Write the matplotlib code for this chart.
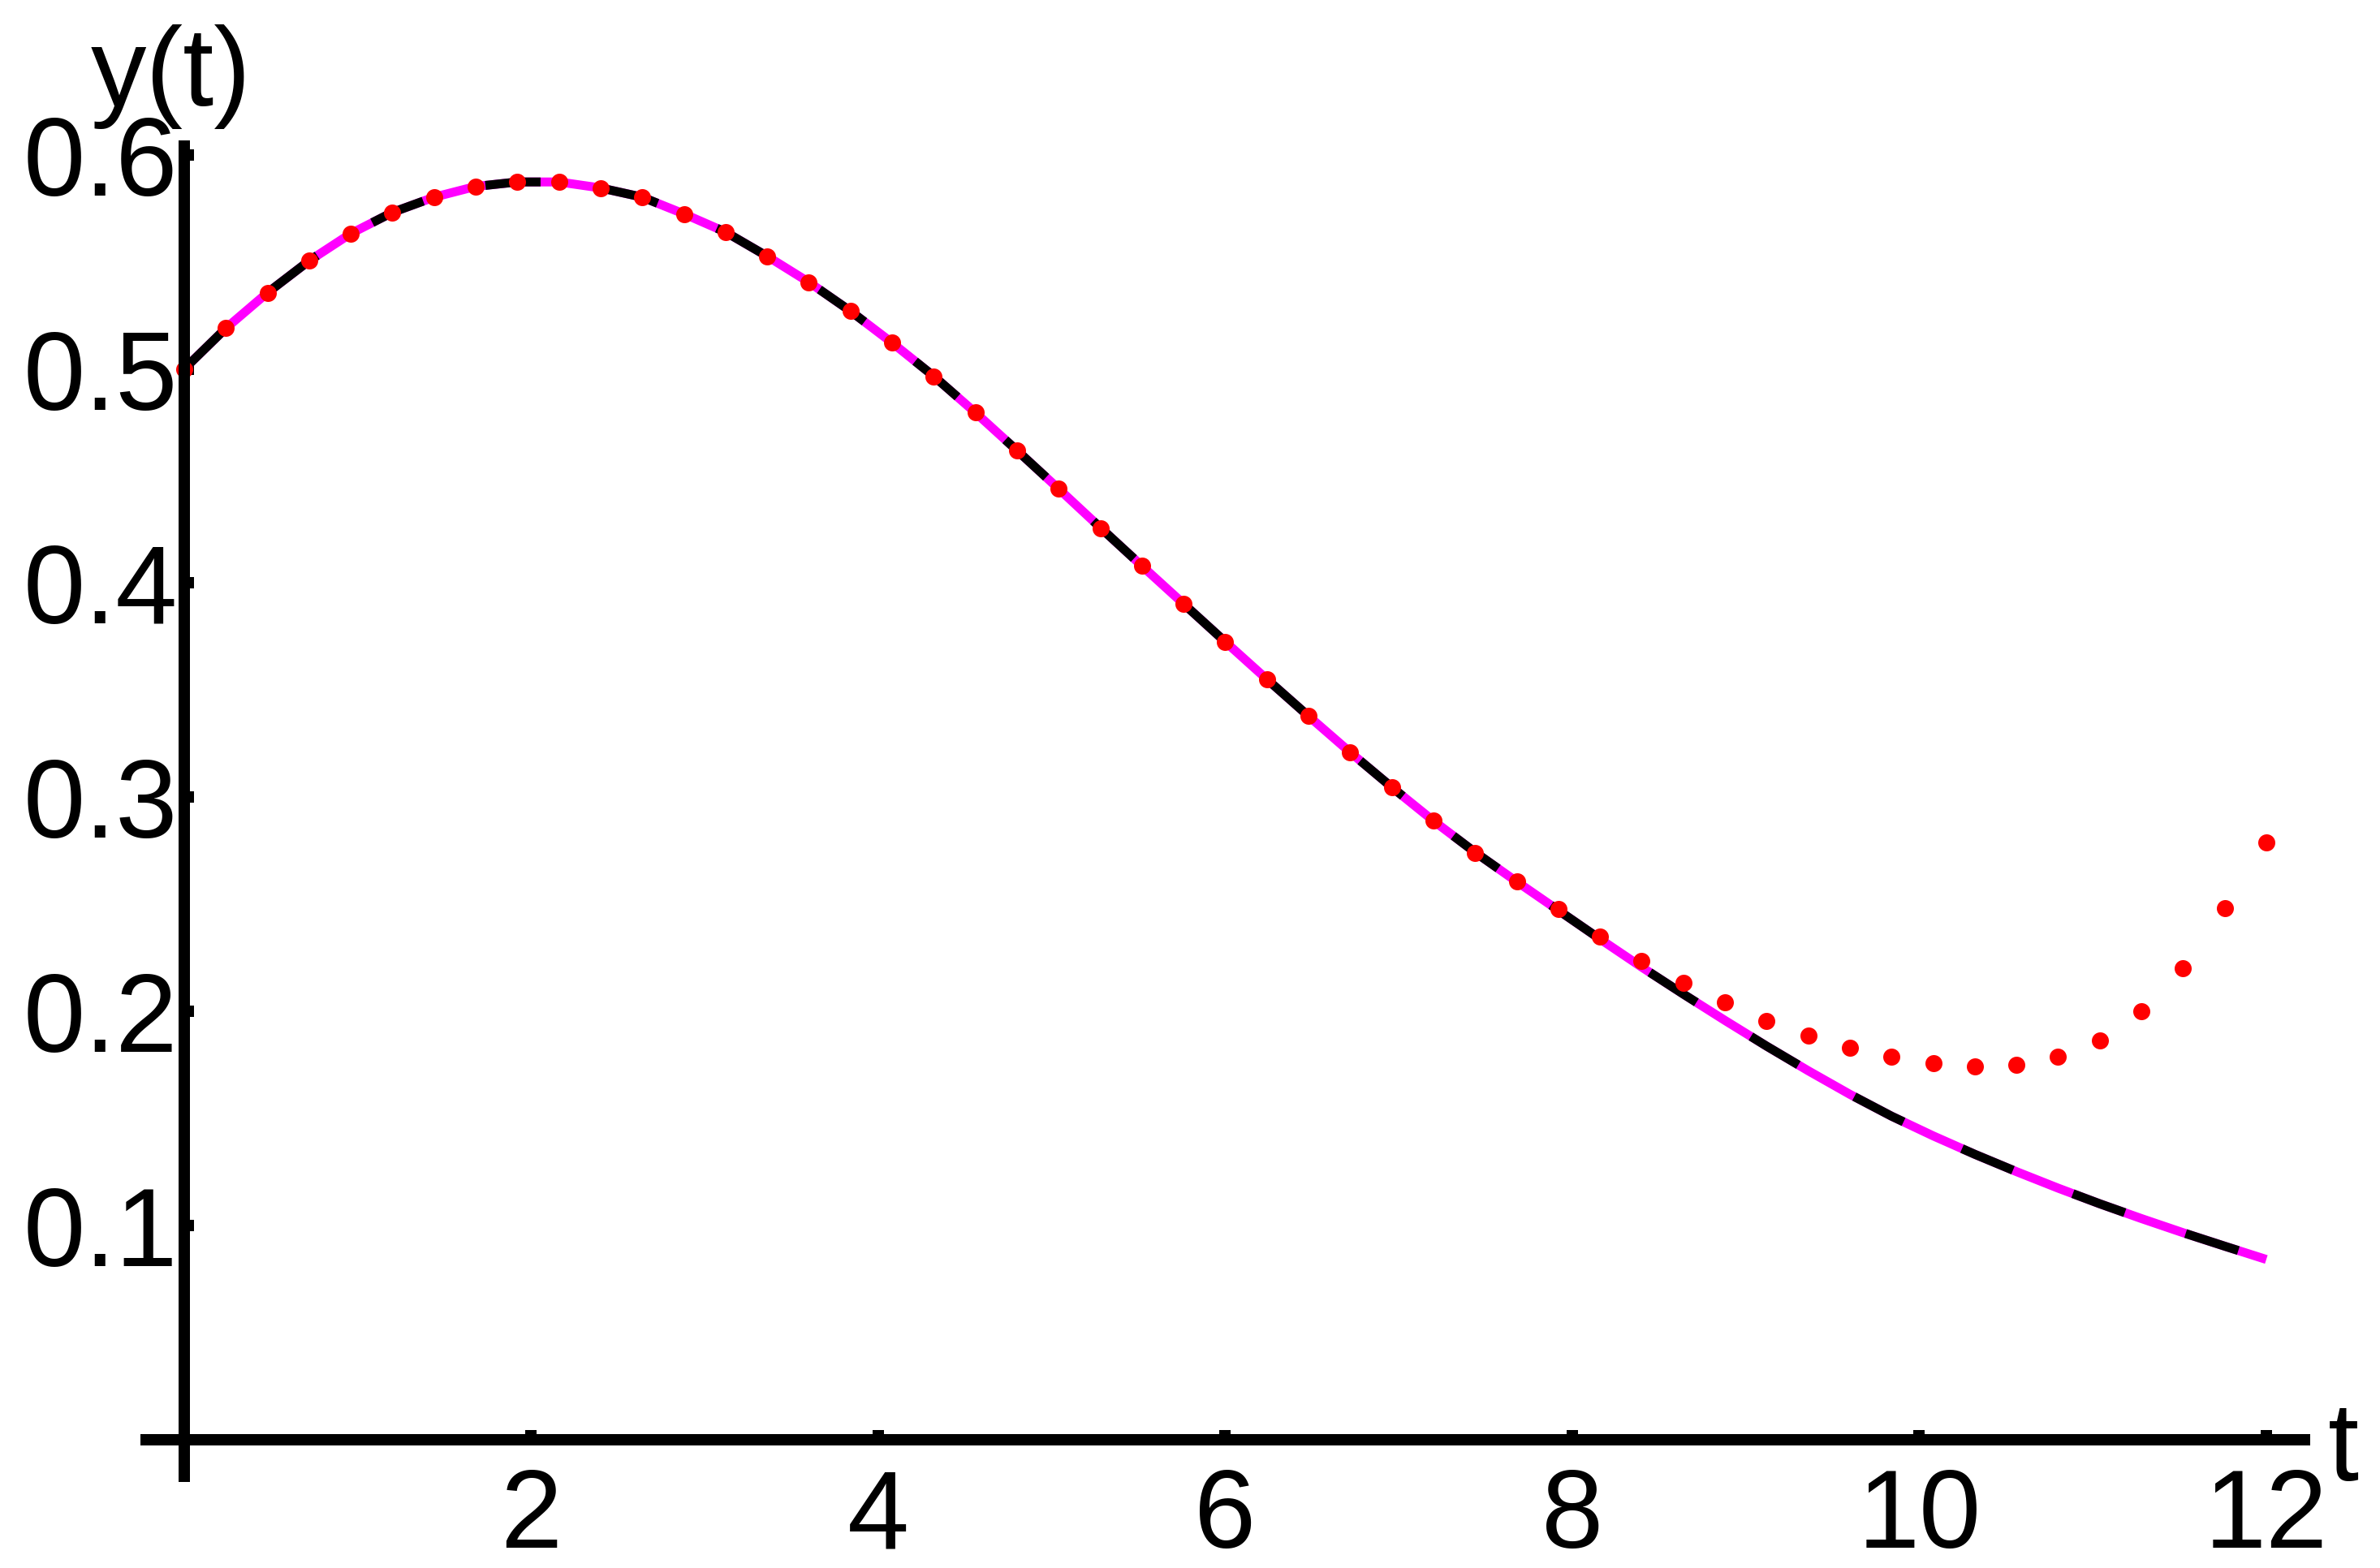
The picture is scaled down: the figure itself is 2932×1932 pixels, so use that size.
import matplotlib
matplotlib.use("Agg")
import matplotlib.pyplot as plt

# ---------------- data ----------------
t_values = [0.00, 0.24, 0.48, 0.72, 0.96, 1.20, 1.44, 1.68, 1.92, 2.16,
            2.40, 2.64, 2.88, 3.12, 3.36, 3.60, 3.84, 4.08, 4.32, 4.56,
            4.80, 5.04, 5.28, 5.52, 5.76, 6.00, 6.24, 6.48, 6.72, 6.96,
            7.20, 7.44, 7.68, 7.92, 8.16, 8.40, 8.64, 8.88, 9.12, 9.36,
            9.60, 9.84, 10.08, 10.32, 10.56, 10.80, 11.04, 11.28, 11.52, 11.76,
            12.00]

# exact solution (magenta / black dashed curve)
exact_y = [0.5000, 0.5190, 0.5356, 0.5505, 0.5632, 0.5731, 0.5802, 0.5852, 0.5873, 0.5873,
           0.5845, 0.5802, 0.5724, 0.5639, 0.5526, 0.5405, 0.5270, 0.5122, 0.4966, 0.4796,
           0.4619, 0.4440, 0.4259, 0.4080, 0.3903, 0.3726, 0.3551, 0.3379, 0.3210, 0.3047,
           0.2890, 0.2743, 0.2606, 0.2472, 0.2338, 0.2207, 0.2081, 0.1958, 0.1838, 0.1723,
           0.1613, 0.1511, 0.1419, 0.1333, 0.1252, 0.1175, 0.1102, 0.1033, 0.0967, 0.0904,
           0.0842]

# approximate (series) solution, red dots
series_y = [0.5000, 0.5190, 0.5356, 0.5505, 0.5632, 0.5731, 0.5802, 0.5852, 0.5873, 0.5873,
            0.5845, 0.5802, 0.5724, 0.5639, 0.5526, 0.5405, 0.5270, 0.5122, 0.4966, 0.4796,
            0.4619, 0.4442, 0.4257, 0.4080, 0.3903, 0.3726, 0.3549, 0.3379, 0.3208, 0.3045,
            0.2890, 0.2741, 0.2606, 0.2478, 0.2351, 0.2237, 0.2133, 0.2041, 0.1957, 0.1888,
            0.1831, 0.1789, 0.1757, 0.1742, 0.1750, 0.1789, 0.1865, 0.2000, 0.2203, 0.2481,
            0.2790]

x_ticks = [2, 4, 6, 8, 10, 12]
x_tick_labels = ["2", "4", "6", "8", "10", "12"]
y_ticks = [0.1, 0.2, 0.3, 0.4, 0.5, 0.6]
y_tick_labels = ["0.1", "0.2", "0.3", "0.4", "0.5", "0.6"]
x_label = "t"
y_label = "y(t)"

# ---------------- figure ----------------
plt.rcParams["font.family"] = ["Liberation Sans", "DejaVu Sans"]

W, H, DPI = 2932, 1932, 200
PX = 72.0 / DPI  # points per pixel

fig = plt.figure(figsize=(W / DPI, H / DPI), dpi=DPI)
fig.patch.set_facecolor("white")

left_px, right_px, top_px, bottom_px = 173, 2846, 173, 1826
ax = fig.add_axes([left_px / W, 1 - bottom_px / H,
                   (right_px - left_px) / W, (bottom_px - top_px) / H])
ax.set_xlim(-0.2526, 12.253)
ax.set_ylim(-0.0197, 0.6067)
ax.set_facecolor("white")

# axes through the origin
for side in ("top", "right"):
    ax.spines[side].set_visible(False)
ax.spines["left"].set_position(("data", 0))
ax.spines["bottom"].set_position(("data", 0))
for side in ("left", "bottom"):
    sp = ax.spines[side]
    sp.set_linewidth(14 * PX)
    sp.set_color("black")
    sp.set_capstyle("butt")
    sp.set_zorder(6)

FS = 49.3
ax.set_xticks(x_ticks)
ax.set_xticklabels(x_tick_labels)
ax.set_yticks(y_ticks)
ax.set_yticklabels(y_tick_labels)
ax.tick_params(axis="both", direction="in", length=12 * PX, width=14 * PX,
               color="black", labelsize=FS, labelcolor="black")
ax.tick_params(axis="x", pad=12)
ax.tick_params(axis="y", pad=3)
ax.minorticks_off()

# curves
lw = 11 * PX
ax.plot(t_values, exact_y, color="#FF00FF", lw=lw, solid_capstyle="butt", zorder=3)
ax.plot(t_values, exact_y, color="black", lw=lw, dashes=(6.2, 7.2),
        dash_capstyle="butt", zorder=4)
ax.plot(t_values, series_y, linestyle="none", marker="o", color="#FF0000",
        markersize=21 * PX, markeredgewidth=0, zorder=5, clip_on=False)

# axis labels (Mathematica style, at the ends of the axes)
fig.text(112 / W, 1 - 130 / H, y_label, fontsize=FS, ha="left", va="baseline")
fig.text(2868 / W, 1 - 1824 / H, x_label, fontsize=FS, ha="left", va="baseline")

fig.savefig("out.png", dpi=DPI, facecolor="white")
